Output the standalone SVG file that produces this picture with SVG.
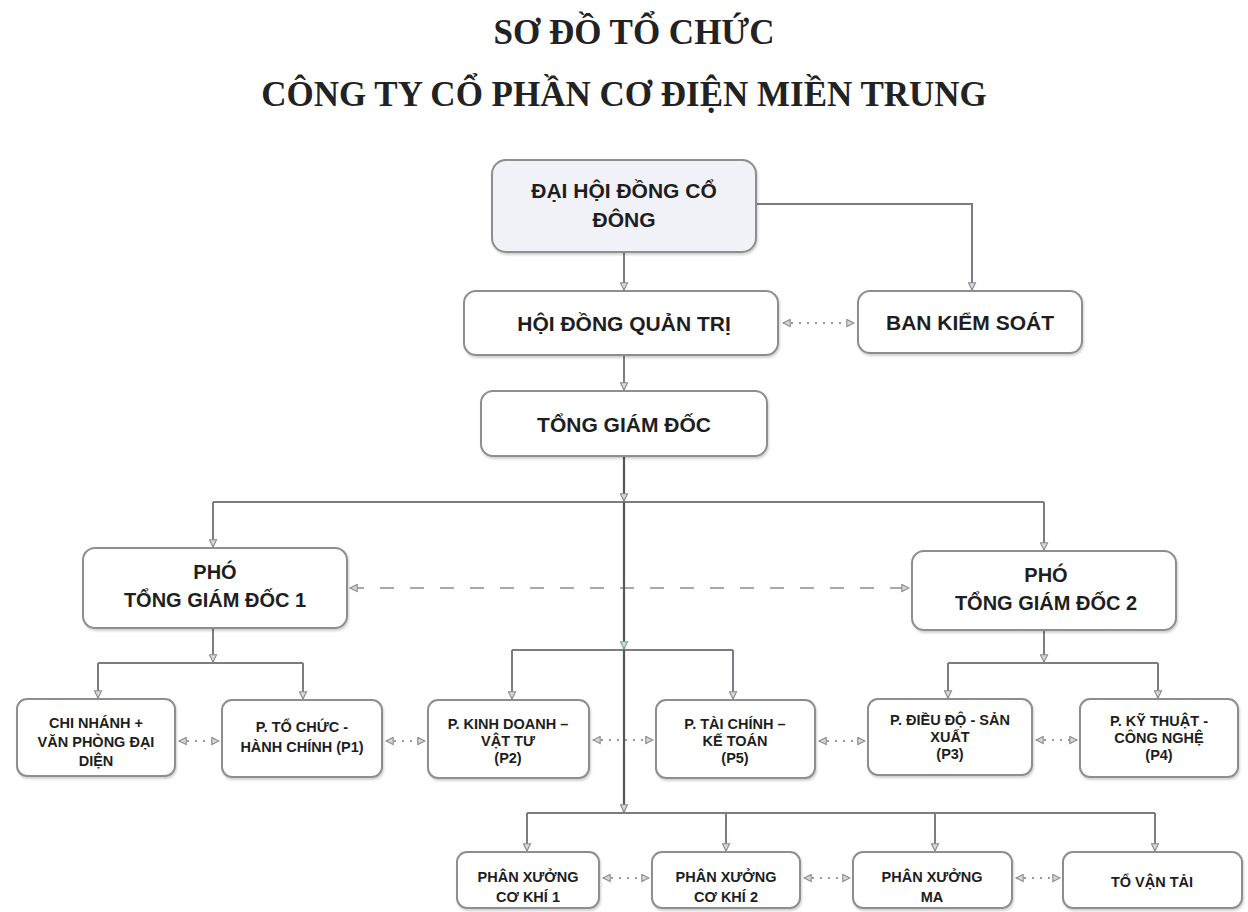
<svg xmlns="http://www.w3.org/2000/svg" width="1248" height="912" viewBox="0 0 1248 912">
<defs>
<marker id="arr" viewBox="0 0 10 10" refX="9" refY="5" markerWidth="9" markerHeight="9" markerUnits="userSpaceOnUse" orient="auto-start-reverse">
<path d="M1,1 L9,5 L1,9 z" fill="#d6d6de" stroke="#8a8a8a" stroke-width="1.2"/>
</marker>
<marker id="arrG" viewBox="0 0 10 10" refX="9" refY="5" markerWidth="9" markerHeight="9" markerUnits="userSpaceOnUse" orient="auto">
<path d="M1,1 L9,5 L1,9 z" fill="#bfe3cf" stroke="#7fa78f" stroke-width="1.2"/>
</marker>
<filter id="sh" x="-5%" y="-5%" width="110%" height="115%">
<feDropShadow dx="1" dy="2" stdDeviation="1.2" flood-color="#000" flood-opacity="0.18"/>
</filter>
</defs>
<style>
.box{fill:#ffffff;stroke:#8e8e8e;stroke-width:2;filter:url(#sh)}
.top{fill:#f1f1f8}
.t{font-family:"Liberation Sans",Arial,sans-serif;font-weight:bold;fill:#1e1e1e;text-anchor:middle}
.big{font-size:21px}
.mid{font-size:20px}
.sm{font-size:14.5px}
.title{font-family:"Liberation Serif","Times New Roman",serif;font-weight:bold;font-size:35px;fill:#222;text-anchor:middle}
.ln{fill:none;stroke:#7c7c84;stroke-width:2}
.main{fill:none;stroke:#55555c;stroke-width:2.2}
.dot{fill:none;stroke:#9a9aa2;stroke-width:2;stroke-dasharray:2 6}
.dash{fill:none;stroke:#a8a8b4;stroke-width:2;stroke-dasharray:14 16}
</style>
<rect width="1248" height="912" fill="#ffffff"/>
<g id="title">
<text class="title" x="634" y="44">SƠ ĐỒ TỔ CHỨC</text>
<text class="title" x="624" y="106">CÔNG TY CỔ PHẦN CƠ ĐIỆN MIỀN TRUNG</text>
</g>
<g id="connectors">
<path class="ln" d="M624,252 V290" marker-end="url(#arr)"/>
<path class="ln" d="M756,204 H972 V290" marker-end="url(#arr)"/>
<path class="ln" d="M624,355 V390" marker-end="url(#arr)"/>
<path class="dot" d="M783,323 H854" marker-start="url(#arr)" marker-end="url(#arr)"/>
<path class="main" d="M624,456 V501" marker-end="url(#arr)"/>
<path class="ln" d="M213,502 H1044"/>
<path class="ln" d="M213,502 V547" marker-end="url(#arr)"/>
<path class="ln" d="M1044,502 V550" marker-end="url(#arr)"/>
<path class="dash" d="M350,588 H909" marker-start="url(#arr)" marker-end="url(#arr)"/>
<path class="main" d="M624,502 V649" marker-end="url(#arrG)"/>
<path class="ln" d="M512,650 H733"/>
<path class="ln" d="M512,650 V699" marker-end="url(#arr)"/>
<path class="ln" d="M733,650 V699" marker-end="url(#arr)"/>
<path class="main" d="M624,650 V812" marker-end="url(#arr)"/>
<path class="ln" d="M527,813 H1155"/>
<path class="ln" d="M527,813 V851" marker-end="url(#arr)"/>
<path class="ln" d="M726,813 V851" marker-end="url(#arr)"/>
<path class="ln" d="M935,813 V851" marker-end="url(#arr)"/>
<path class="ln" d="M1155,813 V851" marker-end="url(#arr)"/>
<path class="ln" d="M213,628 V662" marker-end="url(#arr)"/>
<path class="ln" d="M98,663 H303"/>
<path class="ln" d="M98,663 V698" marker-end="url(#arr)"/>
<path class="ln" d="M303,663 V699" marker-end="url(#arr)"/>
<path class="ln" d="M1044,630 V662" marker-end="url(#arr)"/>
<path class="ln" d="M948,663 H1158"/>
<path class="ln" d="M948,663 V698" marker-end="url(#arr)"/>
<path class="ln" d="M1158,663 V698" marker-end="url(#arr)"/>
<path class="dot" d="M179,741 H219" marker-start="url(#arr)" marker-end="url(#arr)"/>
<path class="dot" d="M386,741 H425" marker-start="url(#arr)" marker-end="url(#arr)"/>
<path class="dot" d="M593,740 H653" marker-start="url(#arr)" marker-end="url(#arr)"/>
<path class="dot" d="M819,741 H865" marker-start="url(#arr)" marker-end="url(#arr)"/>
<path class="dot" d="M1036,740 H1077" marker-start="url(#arr)" marker-end="url(#arr)"/>
<path class="dot" d="M603,878 H649" marker-start="url(#arr)" marker-end="url(#arr)"/>
<path class="dot" d="M804,878 H850" marker-start="url(#arr)" marker-end="url(#arr)"/>
<path class="dot" d="M1016,878 H1060" marker-start="url(#arr)" marker-end="url(#arr)"/>
</g>
<g id="n_dhdcd">
<rect class="box top" x="492" y="160" width="264" height="92" rx="14"/>
<text class="t big" x="624" y="198">ĐẠI HỘI ĐỒNG CỔ</text>
<text class="t big" x="624" y="227">ĐÔNG</text>
</g>
<g id="n_hdqt">
<rect class="box" x="464" y="291" width="314" height="64" rx="12"/>
<text class="t big" x="624" y="331">HỘI ĐỒNG QUẢN TRỊ</text>
</g>
<g id="n_bks">
<rect class="box" x="858" y="291" width="224" height="62" rx="12"/>
<text class="t big" x="970" y="330">BAN KIỂM SOÁT</text>
</g>
<g id="n_tgd">
<rect class="box" x="481" y="391" width="286" height="65" rx="12"/>
<text class="t big" x="624" y="432">TỔNG GIÁM ĐỐC</text>
</g>
<g id="n_pho1">
<rect class="box" x="83" y="548" width="264" height="80" rx="12"/>
<text class="t mid" x="215" y="579">PHÓ</text>
<text class="t mid" x="215" y="607">TỔNG GIÁM ĐỐC 1</text>
</g>
<g id="n_pho2">
<rect class="box" x="912" y="551" width="264" height="79" rx="12"/>
<text class="t mid" x="1046" y="582">PHÓ</text>
<text class="t mid" x="1046" y="610">TỔNG GIÁM ĐỐC 2</text>
</g>
<g id="n_cn">
<rect class="box" x="17" y="699" width="158" height="77" rx="10"/>
<text class="t sm" x="96" y="728">CHI NHÁNH +</text>
<text class="t sm" x="96" y="747">VĂN PHÒNG ĐẠI</text>
<text class="t sm" x="96" y="766">DIỆN</text>
</g>
<g id="n_p1">
<rect class="box" x="222" y="700" width="160" height="77" rx="10"/>
<text class="t sm" x="302" y="732">P. TỔ CHỨC -</text>
<text class="t sm" x="302" y="752">HÀNH CHÍNH (P1)</text>
</g>
<g id="n_p2">
<rect class="box" x="428" y="700" width="161" height="78" rx="10"/>
<text class="t sm" x="508" y="729">P. KINH DOANH –</text>
<text class="t sm" x="508" y="746">VẬT TƯ</text>
<text class="t sm" x="508" y="763">(P2)</text>
</g>
<g id="n_p5">
<rect class="box" x="656" y="700" width="159" height="78" rx="10"/>
<text class="t sm" x="735" y="729">P. TÀI CHÍNH –</text>
<text class="t sm" x="735" y="746">KẾ TOÁN</text>
<text class="t sm" x="735" y="763">(P5)</text>
</g>
<g id="n_p3">
<rect class="box" x="868" y="699" width="164" height="76" rx="10"/>
<text class="t sm" x="950" y="725">P. ĐIỀU ĐỘ - SẢN</text>
<text class="t sm" x="950" y="742">XUẤT</text>
<text class="t sm" x="950" y="759">(P3)</text>
</g>
<g id="n_p4">
<rect class="box" x="1080" y="699" width="158" height="78" rx="10"/>
<text class="t sm" x="1159" y="726">P. KỸ THUẬT -</text>
<text class="t sm" x="1159" y="743">CÔNG NGHỆ</text>
<text class="t sm" x="1159" y="760">(P4)</text>
</g>
<g id="n_px1">
<rect class="box" x="457" y="852" width="142" height="56" rx="10"/>
<text class="t sm" x="528" y="882">PHÂN XƯỞNG</text>
<text class="t sm" x="528" y="902">CƠ KHÍ 1</text>
</g>
<g id="n_px2">
<rect class="box" x="652" y="852" width="148" height="56" rx="10"/>
<text class="t sm" x="726" y="882">PHÂN XƯỞNG</text>
<text class="t sm" x="726" y="902">CƠ KHÍ 2</text>
</g>
<g id="n_pxma">
<rect class="box" x="853" y="852" width="159" height="56" rx="10"/>
<text class="t sm" x="932" y="882">PHÂN XƯỞNG</text>
<text class="t sm" x="932" y="902">MA</text>
</g>
<g id="n_tvt">
<rect class="box" x="1063" y="852" width="179" height="56" rx="10"/>
<text class="t sm" x="1152" y="887">TỔ VẬN TẢI</text>
</g>
</svg>
